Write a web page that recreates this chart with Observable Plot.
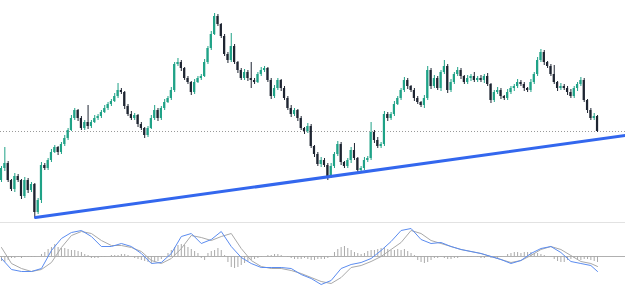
<!DOCTYPE html>
<html><head><meta charset="utf-8">
<script src="https://cdn.jsdelivr.net/npm/d3@7"></script>
<script src="https://cdn.jsdelivr.net/npm/@observablehq/plot@0.6"></script>
<style>
html,body{margin:0;padding:0;background:#fff;}
#chart svg{display:block;background:#fff;}
</style></head><body><div id="chart"></div>
<script>
// Price (close) per candle, arbitrary price units
const closes = [
 72, 77, 60, 51, 64, 60, 44, 60, 50, 56,
 28, 40, 75, 72, 80, 88, 93, 88, 96, 102,
 110, 122, 130, 122, 112, 118, 114, 118, 122, 124,
 128, 132, 136, 139, 144, 150, 148, 134, 126, 122,
 125, 116, 112, 105, 112, 122, 130, 122, 132, 138,
 142, 150, 176, 178, 172, 162, 158, 148, 158, 162,
 164, 178, 192, 206, 224, 216, 204, 186, 180, 194,
 178, 170, 162, 168, 162, 160, 158, 166, 170, 172,
 160, 144, 152, 160, 152, 142, 132, 126, 130, 122,
 112, 109, 114, 94, 86, 76, 80, 75, 64, 74,
 86, 96, 78, 74, 80, 90, 82, 70, 72, 80,
 82, 108, 100, 94, 96, 126, 122, 126, 136, 142,
 150, 160, 154, 150, 142, 138, 135, 142, 170, 154,
 162, 152, 168, 174, 150, 158, 166, 170, 164, 158,
 162, 164, 160, 162, 160, 164, 156, 140, 148, 150,
 144, 142, 148, 152, 154, 158, 156, 152, 150, 158,
 166, 180, 188, 178, 174, 166, 158, 152, 154, 152,
 148, 144, 152, 156, 160, 140, 130, 122, 124, 109
];
const firstOpen = 60;
const upperWick = [
 2, 16, 2, 1, 3, 2, 1, 3, 2, 2,
 1, 2, 3, 2, 2, 3, 2, 1, 2, 3,
 2, 3, 2, 1, 2, 2, 17, 2, 3, 2,
 2, 3, 2, 2, 3, 7, 2, 1, 2, 3,
 2, 1, 2, 1, 2, 3, 5, 2, 2, 3,
 2, 3, 2, 4, 2, 1, 2, 1, 3, 2,
 2, 3, 2, 3, 3, 2, 1, 2, 2, 13,
 2, 1, 2, 3, 2, 16, 2, 2, 3, 2,
 1, 2, 3, 2, 1, 2, 2, 3, 2, 1,
 2, 1, 3, 2, 1, 2, 3, 2, 2, 3,
 2, 3, 2, 1, 2, 3, 7, 1, 2, 3,
 2, 10, 2, 3, 2, 3, 2, 2, 3, 2,
 2, 3, 2, 1, 2, 2, 1, 3, 4, 2,
 3, 2, 2, 6, 2, 3, 2, 3, 2, 1,
 3, 2, 4, 2, 3, 2, 3, 1, 2, 3,
 2, 1, 3, 2, 2, 3, 2, 2, 1, 3,
 2, 3, 3, 2, 1, 2, 9, 1, 3, 2,
 2, 3, 2, 2, 3, 2, 1, 2, 3, 1
];
const lowerWick = [
 2, 3, 2, 2, 3, 2, 3, 2, 3, 2,
 5, 2, 3, 2, 2, 2, 1, 3, 2, 2,
 2, 1, 2, 3, 2, 2, 3, 2, 1, 2,
 2, 1, 2, 2, 1, 2, 2, 3, 2, 2,
 2, 3, 2, 3, 2, 1, 2, 3, 2, 2,
 1, 2, 2, 2, 3, 2, 2, 3, 2, 1,
 2, 1, 2, 2, 1, 2, 2, 2, 3, 2,
 2, 3, 2, 2, 3, 8, 2, 1, 2, 2,
 2, 3, 2, 2, 3, 2, 2, 3, 2, 3,
 2, 3, 2, 2, 3, 2, 3, 2, 4, 2,
 2, 2, 3, 2, 2, 3, 2, 3, 2, 2,
 2, 2, 3, 2, 2, 2, 3, 2, 2, 1,
 2, 2, 3, 2, 3, 2, 2, 3, 2, 3,
 2, 2, 3, 2, 3, 2, 2, 2, 3, 2,
 2, 3, 2, 2, 2, 3, 2, 3, 2, 2,
 3, 2, 2, 2, 3, 2, 2, 3, 2, 2,
 2, 2, 2, 3, 2, 2, 2, 3, 2, 2,
 3, 2, 2, 3, 2, 2, 3, 2, 2, 1
];
// Trend line (candle index, price)
const trendIdx = [10.2, 187.4];
const trendPrice = [23, 105];
// MACD panel, sampled every 3rd candle (last = final candle)
const macdLine = [
 -0.2, -1.3, -1.5, -1.5, -1.2, 0.6, 1.8, 2.4, 2.6, 2.0,
 1.0, 1.0, 1.3, 1.0, 0.3, -0.7, -0.6, 0.3, 2.0, 2.3,
 1.3, 1.7, 2.5, 1.0, -0.1, -0.7, -1.1, -1.1, -1.1, -1.2,
 -1.8, -2.2, -2.8, -2.4, -1.2, -0.8, -0.6, -0.2, 0.6, 1.5,
 2.6, 2.8, 1.7, 1.3, 1.4, 1.0, 0.7, 0.5, 0.3, 0.0,
 -0.3, -0.7, -0.4, 0.3, 0.8, 1.0, 0.4, -0.5, -0.7, -0.9, -1.5
];
const signalLine = [
 0.9, -0.7, -1.2, -1.5, -1.3, -0.6, 0.9, 2.1, 2.5, 2.3,
 1.6, 1.1, 1.1, 0.9, 0.5, -0.4, -0.7, -0.2, 0.8, 2.1,
 1.9, 1.6, 2.0, 2.3, 0.8, -0.4, -1.0, -1.2, -1.2, -1.4,
 -1.7, -2.1, -2.5, -2.7, -2.1, -1.1, -0.9, -0.5, 0.0, 0.7,
 1.4, 2.6, 2.3, 1.6, 1.3, 1.0, 0.7, 0.5, 0.3, 0.0,
 -0.3, -0.6, -0.4, 0.1, 0.7, 1.0, 0.7, 0.1, -0.5, -0.7, -1.0
];
const histogram = [
 -0.5, -0.6, -0.4, -0.2, -0.2, -0.1, -0.2, -0.1, -0.1, -0.1,
 -0.1, 0, 0.2, 0.4, 0.7, 0.9, 1.2, 0.9, 0.8, 0.8,
 0.7, 0.6, 0.6, 0.5, 0.4, 0.2, 0.1, -0.2, -0.2, -0.2,
 -0.1, -0.1, 0, 0.1, 0.1, 0.1, 0.2, 0.2, 0.1, 0,
 -0.2, -0.3, -0.4, -0.5, -0.6, -0.7, -0.6, -0.5, -0.3, -0.1,
 0.3, 0.6, 0.9, 1.1, 1.2, 1.1, 0.9, 0.7, 0.5, 0.3,
 -0.2, -0.4, 0.3, 0.5, 0.6, 0.8, 0.6, 0.1, -0.6, -1.1,
 -1.2, -1.1, -0.9, -0.7, -0.5, -0.4, -0.3, -0.2, -0.1, 0,
 0.1, 0.1, 0.2, 0.2, 0.1, 0, -0.1, -0.2, -0.3, -0.3,
 -0.3, -0.2, -0.3, -0.4, -0.4, -0.3, -0.3, -0.3, -0.2, -0.1,
 0.4, 0.7, 0.9, 1.0, 0.8, 0.6, 0.4, 0.3, 0.2, 0.3,
 0.5, 0.6, 0.6, 0.7, 0.8, 0.8, 0.7, 0.6, 0.6, 0.7,
 0.6, 0.7, 0.5, 0.3, 0.1, -0.4, -0.6, -0.7, -0.6, -0.4,
 -0.2, -0.2, -0.1, -0.2, -0.3, -0.3, -0.2, -0.2, -0.1, 0,
 -0.1, -0.1, 0, -0.1, -0.2, -0.2, -0.1, -0.2, -0.1, -0.2,
 -0.1, 0, 0.2, 0.3, 0.4, 0.4, 0.3, 0.4, 0.4, 0.4,
 0.3, 0.3, 0.2, 0.1, 0, -0.1, -0.3, -0.5, -0.6, -0.6,
 -0.4, -0.3, -0.2, -0.3, -0.4, -0.3, -0.3, -0.4, -0.5, -0.6
];

const UP = "#1fa287", DOWN = "#1e2532";
const candles = closes.map((c, i) => {
  const o = i === 0 ? firstOpen : closes[i - 1];
  return {i, o, c, h: Math.max(o, c) + upperWick[i], l: Math.min(o, c) - lowerWick[i], up: c >= o};
});
const macdIdx = d3.range(0, 180, 3).concat([179]);
const macdData = macdIdx.map((i, k) => ({i, m: macdLine[k], s: signalLine[k]}));
const histData = histogram.map((v, i) => ({i, v}));
const trendData = trendIdx.map((x, k) => ({x, y: trendPrice[k]}));
const xDomain = [-0.3, 187.4];
const lastClose = closes[closes.length - 1];

const price = Plot.plot({
  width: 625, height: 222, margin: 0,
  x: {domain: xDomain, axis: null},
  y: {domain: [18, 240], axis: null},
  color: {type: "identity"},
  marks: [
    Plot.ruleY([lastClose], {stroke: "#9a9a9a", strokeDasharray: "1,2", strokeWidth: 1}),
    Plot.ruleX(candles, {x: "i", y1: "l", y2: "h", stroke: d => d.up ? UP : DOWN, strokeWidth: 1}),
    Plot.rect(candles, {x1: d => d.i - 0.33, x2: d => d.i + 0.33, y1: "o", y2: "c", fill: d => d.up ? UP : DOWN}),
    Plot.line(trendData, {x: "x", y: "y", stroke: "#3367ee", strokeWidth: 3})
  ]
});

const macdTop = 3.4;
const macd = Plot.plot({
  width: 625, height: 73, margin: 0,
  x: {domain: xDomain, axis: null},
  y: {domain: [-3.9, macdTop], axis: null},
  marks: [
    Plot.ruleY([macdTop], {stroke: "#e2e2e2"}),
    Plot.ruleY([0], {stroke: "#b0b0b0"}),
    Plot.ruleX(histData, {x: "i", y1: 0, y2: "v", stroke: "#a9a9a9", strokeWidth: 1}),
    Plot.line(macdData, {x: "i", y: "s", stroke: "#a9a9a9", strokeWidth: 1}),
    Plot.line(macdData, {x: "i", y: "m", stroke: "#5b8cf0", strokeWidth: 1})
  ]
});

document.getElementById("chart").append(price, macd);
</script></body></html>
